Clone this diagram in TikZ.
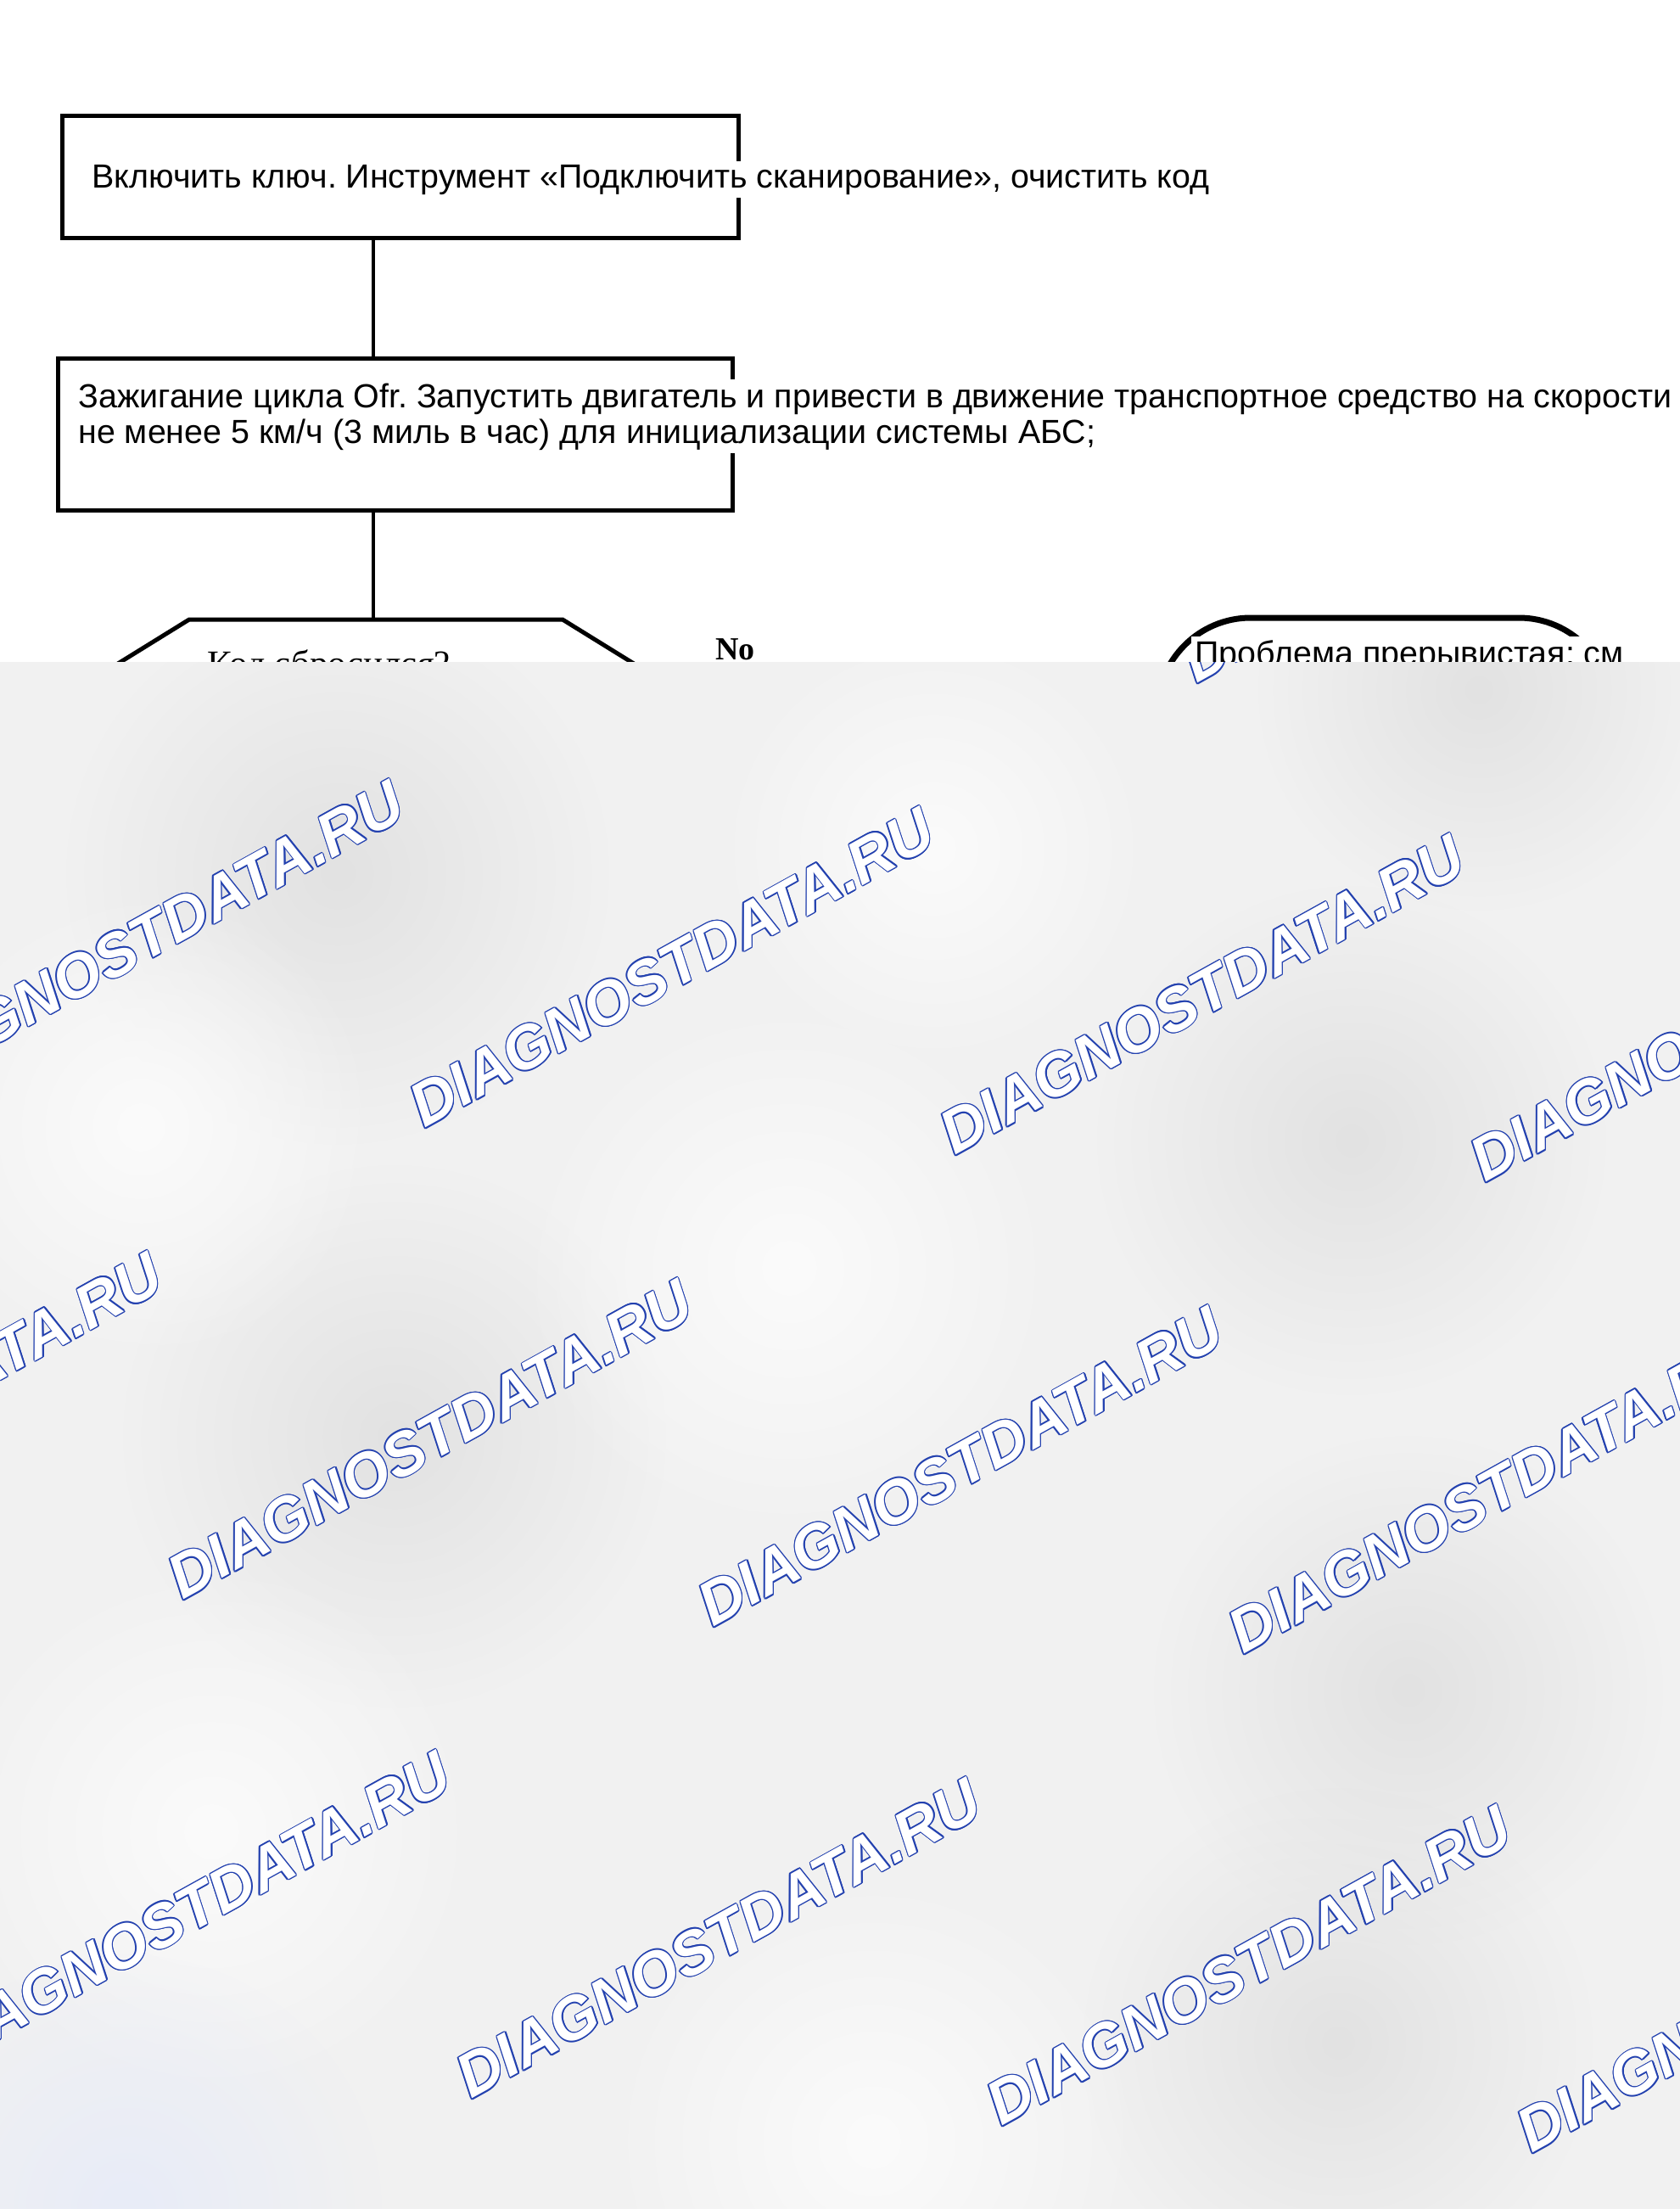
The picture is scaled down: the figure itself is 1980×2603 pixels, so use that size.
\documentclass[tikz,border=0pt]{standalone}
\usepackage{fontspec}
\setmainfont{Liberation Sans}
\newfontfamily\serifface{Liberation Serif}
\newfontfamily\markface{Liberation Sans}
\usetikzlibrary{fadings}
\frenchspacing

\definecolor{markblue}{RGB}{35,65,175}
\definecolor{veil}{RGB}{241,241,241}
\definecolor{veildark}{RGB}{226,226,226}
\definecolor{veillight}{RGB}{251,251,251}
\definecolor{veilblue}{RGB}{232,236,248}

\tikzfading[name=soft blob, inner color=transparent!0, outer color=transparent!100]

\tikzset{
  stepbox/.style={draw, rectangle, line width=2.5pt, inner sep=0pt},
  steptext/.style={anchor=base west, fill=white, inner sep=2pt, font=\fontsize{19.7}{21}\selectfont},
  link/.style={line width=1.7pt},
  markcopy/.style={anchor=base west, rotate=29, inner sep=0pt,
    font=\markface\bfseries\itshape\fontsize{36}{36}\selectfont},
  blob/.style={path fading=soft blob},
}

\begin{document}
\begin{tikzpicture}[x=0.5pt,y=-0.5pt]
\fill[white] (0,0) rectangle (1980,2603);
\useasboundingbox (0,0) rectangle (1980,2603);

% steps
\node[stepbox, minimum width=398.5pt, minimum height=72pt] (clear) at (471.5,208) {};
\node[steptext] (cleartxt) at (104,221) {Включить ключ. Инструмент «Подключить сканирование», очистить код};

\node[stepbox, minimum width=397.5pt, minimum height=89.5pt] (start) at (465.5,511.5) {};
\node[steptext] (starttxt) at (88,480) {Зажигание цикла Ofr. Запустить двигатель и привести в движение транспортное средство на скорости};
\node[steptext] (starttxtb) at (88,522) {не менее 5 км/ч (3 миль в час) для инициализации системы АБС;};

% decision
\draw[line width=2.5pt, line join=miter] (223,730) -- (663,730) -- (760,790) -- (663,850) -- (223,850) -- (126,790) -- cycle;
\coordinate (ask) at (440,730);
\node[anchor=base west, inner sep=0pt, font=\serifface\fontsize{21.5}{22}\selectfont] (asktxt) at (244,796) {Код сбросился?};
\node[anchor=base west, inner sep=0pt, font=\serifface\bfseries\fontsize{19}{19}\selectfont] (no) at (843,777) {No};

\draw[link] (clear.south -| ask) -- (start.north -| ask);
\draw[link] (start.south -| ask) -- (ask);

% intermittent
\node[draw, line width=3.5pt, rounded corners=55pt, minimum width=268pt, minimum height=100pt, inner sep=0pt] (intermit) at (1632,828) {};
\node[anchor=base west, fill=white, inner sep=2pt, font=\fontsize{19.7}{21}\selectfont] (intermittxt) at (1404,783) {Проблема прерывистая: см};

% veil
\fill[veil] (0,780) rectangle (1980,2603);
\begin{scope}
\clip (0,780) rectangle (1980,2603);
\fill[veildark, blob] (1593,1344) circle (300);
\fill[veildark, blob] (398,1029) circle (320);
\fill[veildark, blob] (1660,1992) circle (300);
\fill[veildark, blob] (1577,2407) circle (300);
\fill[veildark, blob] (465,1693) circle (320);
\fill[veildark, blob] (1743,813) circle (260);
\fill[veillight, blob] (930,1494) circle (320);
\fill[veillight, blob] (249,2158) circle (320);
\fill[veillight, blob] (1029,2523) circle (320);
\fill[veillight, blob] (166,1328) circle (280);
\fill[veillight, blob] (1100,1000) circle (260);
\fill[veilblue, blob] (150,2603) circle (300);
\foreach \r in {-1,...,2} {
  \foreach \c in {-1,...,3} {
    \pgfmathsetmacro\mx{500+625*\c-285*\r}
    \pgfmathsetmacro\my{1330+32*\c+556*\r}
    \foreach \a in {0,30,...,330}
      \node[markcopy, markblue, shift={(\a:0.7pt)}] at (\mx,\my) {DIAGNOSTDATA.RU};
    \node[markcopy, white] at (\mx,\my) {DIAGNOSTDATA.RU};
  }
}
\end{scope}
\end{tikzpicture}
\end{document}
